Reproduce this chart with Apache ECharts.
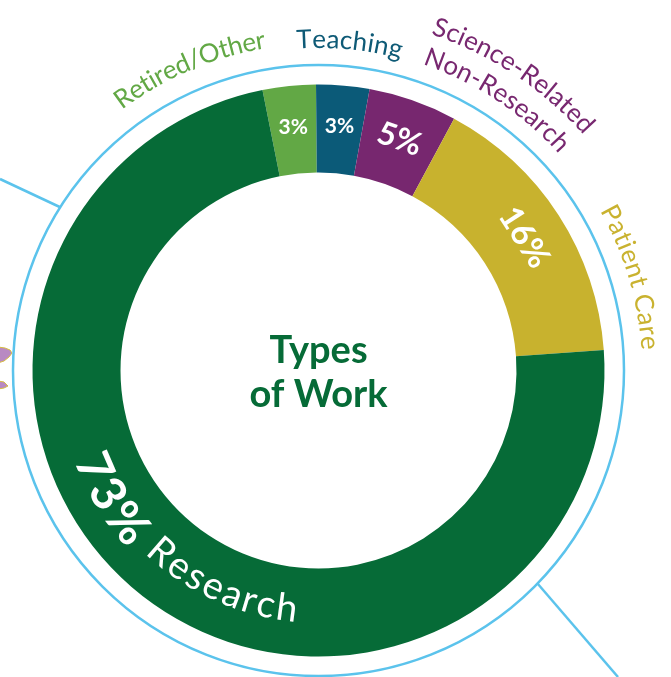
<!DOCTYPE html>
<html><head><meta charset="utf-8">
<script src="https://cdn.jsdelivr.net/npm/echarts@6/dist/echarts.min.js"></script>
<style>html,body{margin:0;padding:0;background:#fff;overflow:hidden}#c{width:671px;height:677px}</style>
</head><body><div id="c"></div>
<script>
// ---- data ----
const categories = ['Retired/Other', 'Teaching', 'Science-Related Non-Research', 'Patient Care', 'Research'];
const values = [3, 3, 5, 16, 73];
const outerLabelLines = [['Retired/Other'], ['Teaching'], ['Science-Related', 'Non-Research'], ['Patient Care'], []];
const centerTitle = ['Types', 'of Work'];

// ---- layout / style ----
const FONT = 'Lato';
const CX = 318.5, CY = 370.5, R0 = 198, R1 = 286, RING = 305.5;
const START = 101.3;
const colors = ['#62a845', '#0b5a78', '#77276f', '#c8b22e', '#066b37'];
const labelColors = ['#62a845', '#0e5a76', '#782870', '#c9b22f', '#ffffff'];
const ringColor = '#5bc3ec';

const ctx = document.createElement('canvas').getContext('2d');
function fontStr(size, weight) { return weight + ' ' + size + 'px ' + FONT; }
function measure(ch, size, weight) { ctx.font = fontStr(size, weight); return ctx.measureText(ch).width; }

// Place characters along an arc; first char centre at thFirst, last char centre at thLast (screen degrees)
function arcText(parts, thFirst, thLast, top, fill) {
  const chars = [];
  parts.forEach(p => { for (const ch of p.text) chars.push({ ch, size: p.size, weight: p.weight, r: p.r, w: measure(ch, p.size, p.weight) }); });
  const pos = []; let acc = 0;
  chars.forEach((c, i) => { if (i > 0) acc += chars[i - 1].w / 2 + c.w / 2; pos.push(acc); });
  const rMean = chars.reduce((s, c) => s + c.r, 0) / chars.length;
  const targetLen = Math.abs(thLast - thFirst) * Math.PI / 180 * rMean;
  const sp = (targetLen - acc) / Math.max(1, chars.length - 1);
  const dir = thLast > thFirst ? 1 : -1;
  return chars.map((c, i) => {
    const s = pos[i] + sp * i;
    const th = thFirst + dir * (s / rMean) * 180 / Math.PI;
    const t = th * Math.PI / 180;
    const rot = top ? -(th + 90) * Math.PI / 180 : (90 - th) * Math.PI / 180;
    return {
      type: 'text', x: CX + c.r * Math.cos(t), y: CY + c.r * Math.sin(t), rotation: rot, silent: true, z: 10,
      style: { text: c.ch, fill: fill, font: fontStr(c.size, c.weight), align: 'center', verticalAlign: 'middle' }
    };
  });
}

// outer label arcs (layout positions only)
const outerArcs = [
  [{ r: 335, from: -125.6, to: -100.0 }],
  [{ r: 331, from: -92.5, to: -76.5 }],
  [{ r: 363, from: -70.4, to: -42.8 }, { r: 332, from: -69.5, to: -43.3 }],
  [{ r: 332, from: -28.2, to: -4.8 }],
  []
];

const graphics = [];
// outer decorative ring
graphics.push({ type: 'circle', shape: { cx: CX, cy: CY, r: RING }, style: { fill: 'none', stroke: ringColor, lineWidth: 2.5 }, silent: true, z: 1 });
// connectors
function ringPt(deg) { const t = deg * Math.PI / 180; return [CX + RING * Math.cos(t), CY + RING * Math.sin(t)]; }
const pL = ringPt(-147.7), pR = ringPt(44.2);
graphics.push({ type: 'line', shape: { x1: pL[0], y1: pL[1], x2: 0, y2: 179 }, style: { stroke: ringColor, lineWidth: 2.5 }, silent: true, z: 1 });
graphics.push({ type: 'line', shape: { x1: pR[0], y1: pR[1], x2: 618, y2: 677 }, style: { stroke: ringColor, lineWidth: 2.5 }, silent: true, z: 1 });
// fragments of neighbouring graphic at left edge
graphics.push({ type: 'polygon', shape: { points: [[-2, 347], [5, 348], [10, 350], [12, 353], [9, 357], [4, 361], [-2, 363]] }, style: { fill: '#b889c2', stroke: '#d6bc44', lineWidth: 1 }, silent: true });
graphics.push({ type: 'polygon', shape: { points: [[-2, 381], [4, 382], [8, 386], [4, 388], [-2, 389]] }, style: { fill: '#b889c2', stroke: '#d6bc44', lineWidth: 1 }, silent: true });

// outer curved labels
outerLabelLines.forEach((lines, i) => {
  lines.forEach((txt, j) => {
    const a = outerArcs[i][j];
    arcText([{ text: txt, size: 26, weight: 'normal', r: a.r }], a.from, a.to, true, labelColors[i]).forEach(g => graphics.push(g));
  });
});

// curved label inside the Research segment
const iR = values.length - 1;
arcText([
  { text: values[iR] + '%', size: 48, weight: 'bold', r: 245 },
  { text: ' ' + categories[iR], size: 38, weight: 'normal', r: 240 }
], 156.6, 97.6, false, '#ffffff').forEach(g => graphics.push(g));

// centre title
graphics.push({
  type: 'text', x: CX, y: CY + 2, silent: true, z: 10,
  style: { text: centerTitle.join('\n'), fill: '#066b37', font: fontStr(38, 'bold'), align: 'center', verticalAlign: 'middle', lineHeight: 44 }
});

const labelCfg = [
  { fontSize: 21, rotate: 0 },
  { fontSize: 21, rotate: 0 },
  { fontSize: 32, rotate: 'tangential' },
  { fontSize: 33, rotate: 'tangential' },
  { show: false }
];

const chart = echarts.init(document.getElementById('c'), null, { renderer: 'canvas' });
chart.setOption({
  animation: false,
  backgroundColor: '#ffffff',
  series: [{
    type: 'pie',
    center: [CX, CY],
    radius: [R0, R1],
    startAngle: START,
    clockwise: true,
    avoidLabelOverlap: false,
    silent: true,
    labelLine: { show: false },
    label: { show: true, position: 'inside', color: '#ffffff', fontFamily: FONT, fontWeight: 'bold',
      formatter: p => p.value + '%' },
    itemStyle: { borderWidth: 0 },
    data: categories.map((c, i) => ({
      name: c, value: values[i],
      itemStyle: { color: colors[i] },
      label: Object.assign({ show: true }, labelCfg[i])
    }))
  }],
  graphic: graphics
});
</script>
</body></html>
